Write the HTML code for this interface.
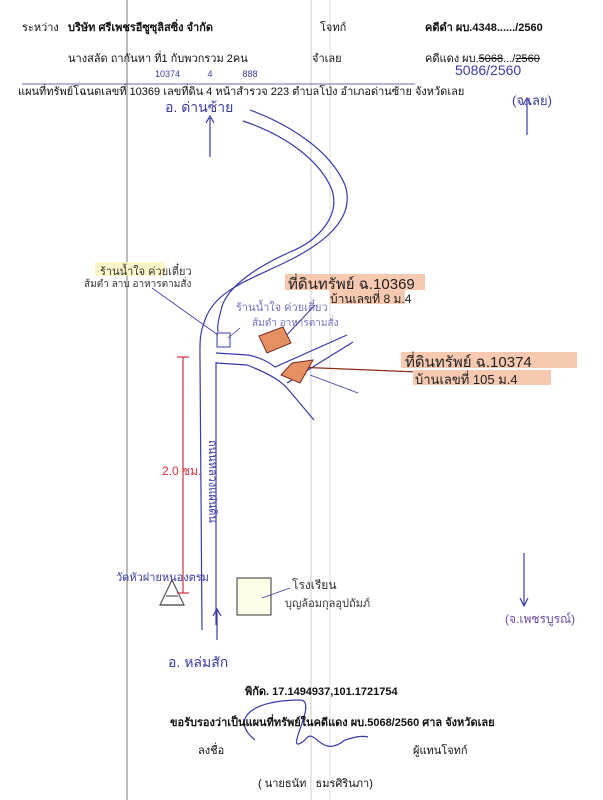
<!DOCTYPE html>
<html><head><meta charset="utf-8"><style>
body{margin:0;width:603px;height:800px;background:#fff;position:relative;overflow:hidden;font-family:"Liberation Sans","DejaVu Sans",sans-serif;}
.t{position:absolute;font-size:11px;color:#111;white-space:nowrap;}
.h{position:absolute;font-size:12px;white-space:nowrap;font-family:"Liberation Sans","DejaVu Sans",sans-serif;}
.b{color:#3a3aa8}.g{color:#333}.p{color:#6a4aa8}
</style></head><body>
<svg width="603" height="800" style="position:absolute;left:0;top:0">
<line x1="127" y1="0" x2="127" y2="800" stroke="#777" stroke-width="1"/>
<line x1="311" y1="0" x2="311" y2="800" stroke="#ccc" stroke-width="1"/>
<line x1="330" y1="0" x2="330" y2="800" stroke="#ddd" stroke-width="1"/>
<g stroke="#3a3aa8" fill="none" stroke-width="1.2">
<line x1="22" y1="84" x2="415" y2="84" stroke-width="0.8"/>
<line x1="210" y1="157" x2="210" y2="118"/><path d="M206,123 L210,116 L214,123"/>
<line x1="527" y1="100" x2="527" y2="135"/><path d="M523,105 L527,98 L531,105"/>
<line x1="524" y1="553" x2="524" y2="605"/><path d="M520,598 L524,606 L528,598"/>
<line x1="217" y1="640" x2="217" y2="610"/><path d="M213,616 L217,609 L221,616"/>
<path d="M250,110 C290,125 330,150 345,185 C355,215 330,240 290,260 C250,280 215,290 205,320 C199,335 200,345 200,360 L202,630"/>
<path d="M243,121 C285,135 320,160 332,190 C340,215 320,240 290,252 C250,270 225,290 221,310 C219,318 217,325 218,332"/>
<path d="M216,362 L216,625"/>
<path d="M216,353 L248,355 C260,357 270,363 275,367 L347,335"/>
<path d="M216,363 L247,365 C265,372 280,380 287,388 L314,420"/>
<path d="M287,383 L353,342"/>
<line x1="310" y1="375" x2="358" y2="393" stroke-width="0.8"/>
<rect x="217" y="333" width="13" height="14" stroke-width="1"/>
<line x1="152" y1="288" x2="218" y2="335" stroke-width="0.8"/>
<line x1="228" y1="338" x2="240" y2="328" stroke-width="0.8"/>
<line x1="283" y1="339" x2="315" y2="305" stroke-width="1"/>
<path d="M295,367 L418,372" stroke="#8b2a1a"/>
<rect x="237" y="578" width="34" height="37" stroke="#555" fill="#fdfde8"/>
<line x1="262" y1="598" x2="290" y2="588" stroke-width="0.8"/>
<path d="M160,605 L172,580 L184,605 Z" stroke="#555"/>
<line x1="160" y1="605" x2="184" y2="605" stroke="#555"/>
<line x1="166" y1="596" x2="178" y2="596" stroke="#555"/>
<path d="M255,740 C230,720 250,700 300,700 C320,700 280,760 305,740 C315,725 320,760 345,740 C352,738 360,735 368,737"/>
</g>
<polygon points="259,336 283,327 291,343 267,353" fill="#e59060" stroke="#7a2a2a"/>
<polygon points="281,375 292,363 313,360 300,383" fill="#e59060" stroke="#7a2a2a"/>
<g stroke="#d03040" stroke-width="1.2">
<line x1="183" y1="357" x2="183" y2="593"/><line x1="177" y1="357" x2="189" y2="357"/><line x1="177" y1="593" x2="189" y2="593"/>
</g>
<rect x="285" y="274" width="140" height="16" fill="#f6c9b0"/>
<rect x="330" y="290" width="75" height="14" fill="#f6c9b0"/>
<rect x="401" y="352" width="176" height="16" fill="#f6c9b0"/>
<rect x="413" y="370" width="138" height="15" fill="#f6c9b0"/>
<rect x="95" y="262" width="70" height="14" fill="#fbf5c8"/>
</svg>
<div class="t" style="left:22px;top:18px">ระหว่าง</div>
<div class="t" style="left:68px;top:18px;font-weight:bold">บริษัท ศรีเพชรอีซูซุลิสซิ่ง จำกัด</div>
<div class="t" style="left:320px;top:18px">โจทก์</div>
<div class="t" style="left:425px;top:18px;font-weight:bold">คดีดำ ผบ.4348....../2560</div>
<div class="t" style="left:68px;top:49px">นางสลัด ถากันหา ที่1 กับพวกรวม 2คน</div>
<div class="t" style="left:312px;top:49px">จำเลย</div>
<div class="t" style="left:425px;top:49px">คดีแดง ผบ.<s>5068</s>.../<s>2560</s></div>
<div class="h b" style="left:455px;top:62px;font-size:14px">5086/2560</div>
<div class="h b" style="left:155px;top:69px;font-size:9px">10374 &nbsp;&nbsp;&nbsp;&nbsp;&nbsp;&nbsp;&nbsp;&nbsp;&nbsp;&nbsp;4 &nbsp;&nbsp;&nbsp;&nbsp;&nbsp;&nbsp;&nbsp;&nbsp;&nbsp;&nbsp;&nbsp;888</div>
<div class="t" style="left:18px;top:82px">แผนที่ทรัพย์โฉนดเลขที่ 10369 เลขที่ดิน 4 หน้าสำรวจ 223 ตำบลโป่ง อำเภอด่านซ้าย จังหวัดเลย</div>
<div class="h b" style="left:165px;top:97px;font-size:14px">อ. ด่านซ้าย</div>
<div class="h b" style="left:512px;top:90px;font-size:13px">(จ.เลย)</div>
<div class="h g" style="left:100px;top:262px;font-size:11px">ร้านน้ำใจ ค่วยเตี๋ยว</div>
<div class="h g" style="left:84px;top:277px;font-size:10px">ส้มตำ ลาบ อาหารตามสั่ง</div>
<div class="h" style="left:288px;top:272px;font-size:15px;color:#222">ที่ดินทรัพย์ ฉ.10369</div>
<div class="h b" style="left:236px;top:298px;font-size:11px;opacity:.7">ร้านน้ำใจ ค่วยเตี๋ยว</div>
<div class="h" style="left:330px;top:290px;font-size:12px;color:#222">บ้านเลขที่ 8 ม.4</div>
<div class="h b" style="left:252px;top:316px;font-size:10px;opacity:.7">ส้มตำ อาหารตามสั่ง</div>
<div class="h" style="left:405px;top:350px;font-size:15px;color:#222">ที่ดินทรัพย์ ฉ.10374</div>
<div class="h" style="left:415px;top:369px;font-size:13px;color:#222">บ้านเลขที่ 105 ม.4</div>
<div class="h" style="left:162px;top:462px;font-size:12px;color:#d03040">2.0 ซม.</div>
<div class="h b" style="top:440px;font-size:11px;transform:rotate(90deg);transform-origin:left top;left:222px">ถนนหลวงแผ่นดิน</div>
<div class="h b" style="left:116px;top:568px;font-size:11px">วัดหัวฝายหนองตรม</div>
<div class="h g" style="left:292px;top:576px;font-size:12px">โรงเรียน</div>
<div class="h g" style="left:285px;top:594px;font-size:11px">บุญล้อมกุลอุปถัมภ์</div>
<div class="h p" style="left:505px;top:610px;font-size:12px">(จ.เพชรบูรณ์)</div>
<div class="h b" style="left:168px;top:652px;font-size:14px">อ. หล่มสัก</div>
<div class="t" style="left:245px;top:682px;font-weight:bold">พิกัด. 17.1494937,101.1721754</div>
<div class="t" style="left:170px;top:713px;font-weight:bold">ขอรับรองว่าเป็นแผนที่ทรัพย์ในคดีแดง ผบ.5068/2560 ศาล จังหวัดเลย</div>
<div class="t" style="left:198px;top:741px">ลงชื่อ</div>
<div class="t" style="left:413px;top:741px">ผู้แทนโจทก์</div>
<div class="t" style="left:258px;top:774px">( นายธนัท &nbsp;&nbsp;ธมรศิรินภา)</div>
</body></html>
